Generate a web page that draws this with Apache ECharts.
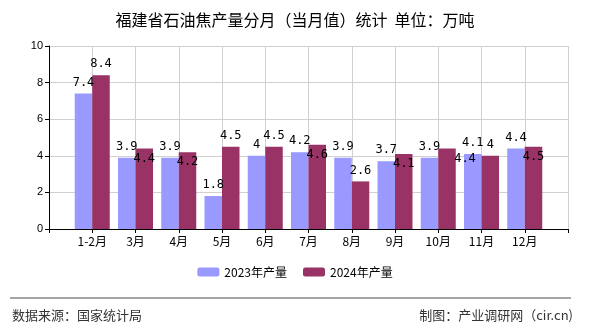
<!DOCTYPE html>
<html><head><meta charset="utf-8">
<script src="https://cdn.jsdelivr.net/npm/echarts@6/dist/echarts.min.js"></script>
<style>html,body{margin:0;padding:0;background:#fff}#c{width:590px;height:330px}</style>
</head><body><div id="c"></div>
<script>
var categories = ['', '1-2月', '3月', '4月', '5月', '6月', '7月', '8月', '9月', '10月', '11月', '12月', ''];
var values2023 = [null, 7.4, 3.9, 3.9, 1.8, 4, 4.2, 3.9, 3.7, 3.9, 4.1, 4.4, null];
var values2024 = [null, 8.4, 4.4, 4.2, 4.5, 4.5, 4.6, 2.6, 4.1, 4.4, 4, 4.5, null];
// label placement for 2024 (top / inside / shifted)
var pos2024 = [null, 'top', 'in', 'in', 'top', 'top', 'in', 'top', 'in', 'shift', 'top', 'in', null];
var yTicks = [0, 2, 4, 6, 8, 10];

var lblFont = 'DejaVu Sans Mono';
function mk2024() {
  return values2024.map(function (v, i) {
    if (v == null) return null;
    var p = pos2024[i];
    var lab = { show: true, color: '#000', fontSize: 12, fontFamily: lblFont };
    if (p === 'top') { lab.position = 'top'; lab.distance = 5; }
    else if (p === 'in') { lab.position = 'insideTop'; lab.distance = 4; }
    else { lab.position = 'insideTop'; lab.distance = 4; lab.offset = [18, 0]; }
    return { value: v, label: lab };
  });
}

var chart = echarts.init(document.getElementById('c'), null, { renderer: 'canvas' });
chart.setOption({
  animation: false,
  backgroundColor: '#fff',
  title: {
    text: '福建省石油焦产量分月（当月值）统计  单位：万吨',
    left: 'center', top: 7,
    textStyle: { fontSize: 16, fontWeight: 'normal', color: '#000', fontFamily: 'Noto Sans CJK SC' }
  },
  legend: {
    bottom: 47, left: 'center',
    itemWidth: 22, itemHeight: 9, itemGap: 16,
    textStyle: { fontSize: 12, color: '#000', fontFamily: 'Noto Sans CJK SC' },
    data: ['2023年产量', '2024年产量']
  },
  grid: { left: 49, right: 22, top: 46, bottom: 101, containLabel: false },
  xAxis: {
    type: 'category', data: categories, boundaryGap: false,
    axisLine: { lineStyle: { color: '#000', width: 1 } },
    axisTick: { show: true, length: 4, lineStyle: { color: '#000' } },
    axisLabel: { color: '#000', fontSize: 12, margin: 6, interval: 0, fontFamily: 'Noto Sans CJK SC' },
    splitLine: { show: true, lineStyle: { color: '#d0d0d0', width: 1 } }
  },
  yAxis: {
    type: 'value', min: yTicks[0], max: yTicks[yTicks.length - 1], interval: 2,
    axisLine: { show: true, lineStyle: { color: '#000', width: 1 } },
    axisTick: { show: true, length: 4, lineStyle: { color: '#000' } },
    axisLabel: { color: '#000', fontSize: 11, margin: 6 },
    splitLine: { show: true, lineStyle: { color: '#d0d0d0', width: 1 } }
  },
  series: [
    {
      name: '2023年产量', type: 'bar', data: values2023,
      barWidth: 17.5, barGap: '0%',
      itemStyle: { color: '#9999ff' },
      label: { show: true, position: 'top', distance: 5, color: '#000', fontSize: 12, fontFamily: lblFont }
    },
    {
      name: '2024年产量', type: 'bar', data: mk2024(),
      barWidth: 17.5, barGap: '0%',
      itemStyle: { color: '#993366' }
    }
  ],
  graphic: [
    { type: 'line', shape: { x1: 10, y1: 298, x2: 571, y2: 298 }, style: { stroke: '#888', lineWidth: 1.5 } },
    { type: 'text', left: 12, top: 309, style: { text: '数据来源：国家统计局', fontSize: 13, fill: '#333', fontFamily: 'Noto Sans CJK SC' } },
    { type: 'text', right: 17, top: 309, style: { text: '制图：产业调研网（cir.cn)', fontSize: 13, fill: '#333', fontFamily: 'Noto Sans CJK SC' } }
  ]
});
</script></body></html>
